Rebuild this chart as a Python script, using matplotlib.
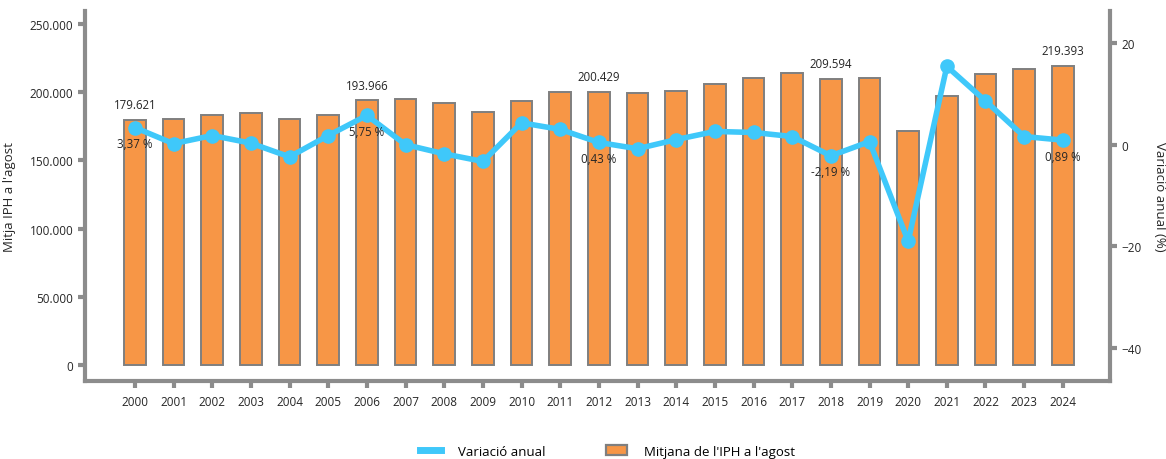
import matplotlib
matplotlib.use("Agg")
import matplotlib.pyplot as plt
from matplotlib.ticker import FuncFormatter
from matplotlib.lines import Line2D
from matplotlib.patches import Patch
import numpy as np

plt.rcParams['font.family'] = ['Open Sans', 'DejaVu Sans']

# Data
years = [str(y) for y in range(2000, 2025)]
iph_agost = [179621, 180100, 183300, 184500, 180100, 183300, 193966, 194800,
             191900, 185700, 193600, 200000, 200429, 199230, 200900, 205700,
             210500, 213870, 209594, 210550, 171670, 196900, 213430, 217000,
             219393]
variacio = [3.37, 0.2, 1.8, 0.3, -2.4, 1.8, 5.75, 0.0, -1.8, -3.3, 4.3, 3.0,
            0.43, -0.8, 1.0, 2.6, 2.4, 1.6, -2.19, 0.6, -19.0, 15.4, 8.6,
            1.6, 0.89]
labelled_years = ['2000', '2006', '2012', '2018', '2024']

BAR_COLOR = '#F79646'
EDGE_COLOR = '#7F7F7F'
LINE_COLOR = '#3FC8FA'
AXIS_GRAY = '#8C8C8C'
TEXT_COLOR = '#262626'


def thousands(v, pos=None):
    return f'{int(round(v)):,}'.replace(',', '.')


def pct(v):
    return f'{v:.2f}'.replace('.', ',') + ' %'


fig = plt.figure(figsize=(11.66, 4.6), dpi=100)
ax = fig.add_axes([85 / 1166, 78 / 460, 1025 / 1166, 370 / 460])
ax2 = ax.twinx()

x = np.arange(len(years))
ax.bar(x, iph_agost, width=0.56, color=BAR_COLOR, edgecolor=EDGE_COLOR,
       linewidth=1.4, zorder=2)

ax2.plot(x, variacio, color=LINE_COLOR, linewidth=4, marker='o',
         markersize=9.5, zorder=3)

# value labels
for i, yr in enumerate(years):
    if yr in labelled_years:
        ax.annotate(thousands(iph_agost[i]), (x[i], iph_agost[i]),
                    xytext=(0, 11), textcoords='offset points',
                    ha='center', va='center', fontsize=8.3, color=TEXT_COLOR)
        ax2.annotate(pct(variacio[i]), (x[i], variacio[i]),
                     xytext=(0, -11.5), textcoords='offset points',
                     ha='center', va='center', fontsize=8.3, color=TEXT_COLOR)

ax.set_xlim(-1.29, 25.22)
ax.set_ylim(-11765, 259559)
ax2.set_ylim(-46.5, 26.3)

ax.set_xticks(x)
ax.set_xticklabels(years)
ax.set_yticks([0, 50000, 100000, 150000, 200000, 250000])
ax.yaxis.set_major_formatter(FuncFormatter(thousands))
ax2.set_yticks([-40, -20, 0, 20])

for a in (ax, ax2):
    for s in a.spines.values():
        s.set_visible(False)
    a.tick_params(colors=AXIS_GRAY, labelcolor=TEXT_COLOR, labelsize=8.5,
                  length=5, width=3, direction='out')

ax.spines['left'].set_visible(True)
ax.spines['bottom'].set_visible(True)
ax2.spines['right'].set_visible(True)
for s in (ax.spines['left'], ax.spines['bottom'], ax2.spines['right']):
    s.set_color(AXIS_GRAY)
    s.set_linewidth(3)
ax.tick_params(axis='x', pad=5)

ax.set_ylabel("Mitja IPH a l'agost", fontsize=9.5, color=TEXT_COLOR, labelpad=10)
ax2.set_ylabel("Variació anual (%)", fontsize=9.5, color=TEXT_COLOR,
               rotation=270, labelpad=17)

handles = [Line2D([0], [0], color=LINE_COLOR, linewidth=5),
           Patch(facecolor=BAR_COLOR, edgecolor=EDGE_COLOR, linewidth=1.6)]
fig.legend(handles, ['Variació anual', "Mitjana de l'IPH a l'agost"],
           loc='center', bbox_to_anchor=(0.521, 0.017), ncol=2, frameon=False,
           fontsize=9.5, handlelength=1.6, handletextpad=1.3,
           columnspacing=4.6)

fig.savefig('out.png', dpi=100)
